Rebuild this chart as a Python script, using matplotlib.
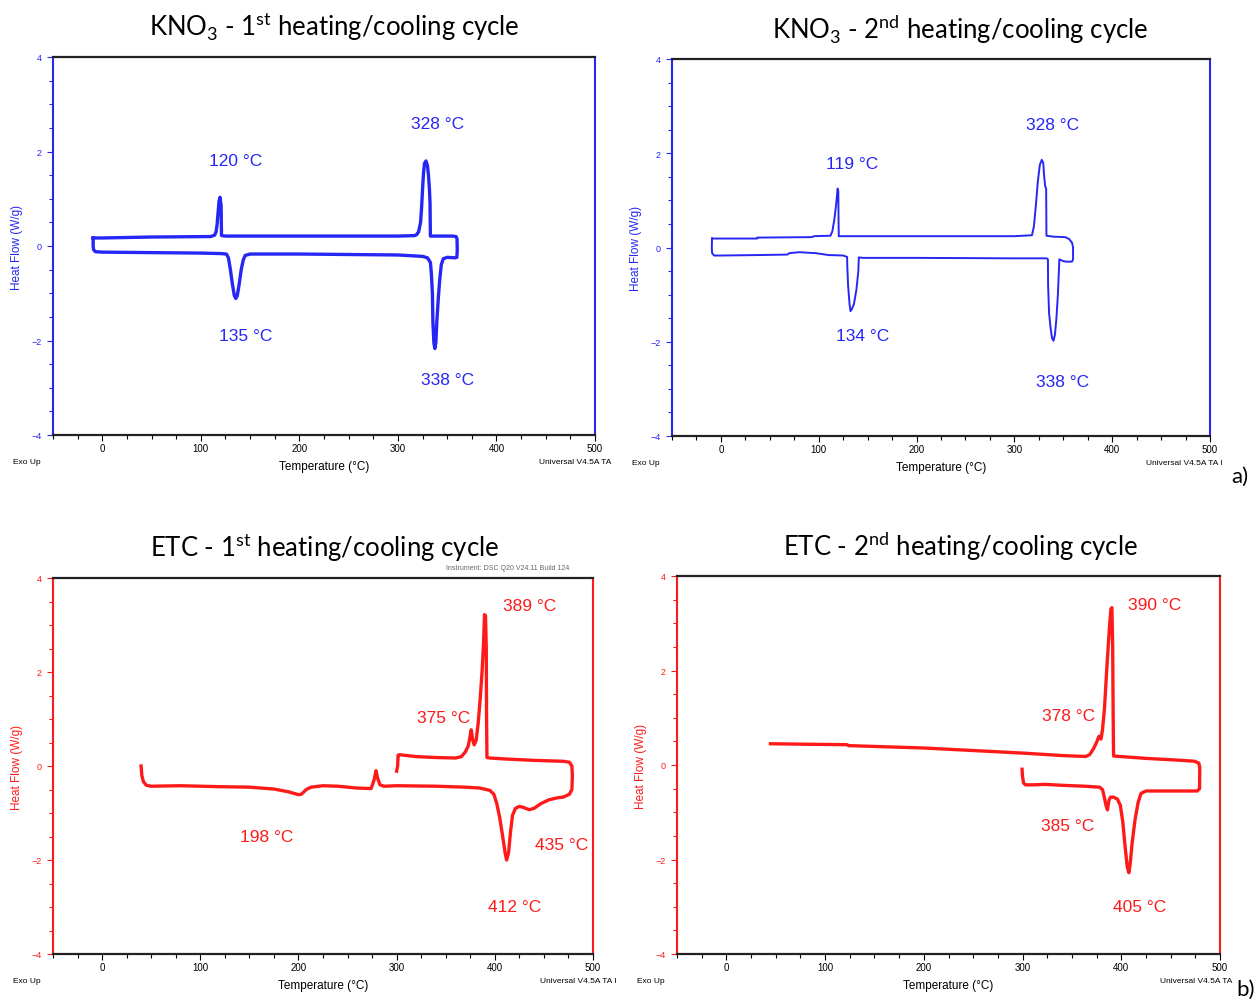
import matplotlib
matplotlib.use("Agg")
import matplotlib.pyplot as plt
from matplotlib.ticker import MultipleLocator

# ---- data (temperature in C, heat flow in W/g) ----
kno3_1_T = [-9.2, -9.3, -8.8, -7, 0, 50, 100, 120, 126, 128, 130, 132, 134, 135.5, 137, 139, 141, 143, 145, 150,
            200, 250, 300, 325, 330, 333, 334, 335, 335.5, 336.5, 337.5, 338.5, 339.5, 341, 342.5, 344, 346, 350,
            358, 359.8, 360.2, 360, 359, 355, 340, 333, 332.8, 332.6, 332, 331, 330, 328.5, 327, 326, 325, 324,
            323, 321, 319, 317, 300, 250, 200, 150, 125, 121, 120.8, 120.6, 119.5, 118.5, 117.5, 116.5, 115.5,
            114, 110, 50, 0, -9.2]
kno3_1_HF = [0.17, 0.0, -0.08, -0.12, -0.13, -0.14, -0.15, -0.16, -0.17, -0.25, -0.5, -0.8, -1.05, -1.11, -1.05,
             -0.8, -0.5, -0.3, -0.2, -0.17, -0.17, -0.18, -0.19, -0.22, -0.25, -0.35, -0.6, -1.0, -1.6, -2.05,
             -2.17, -2.05, -1.6, -1.1, -0.7, -0.4, -0.27, -0.24, -0.25, -0.24, -0.1, 0.15, 0.2, 0.21, 0.21, 0.21,
             0.5, 0.9, 1.2, 1.5, 1.7, 1.8, 1.75, 1.55, 1.2, 0.8, 0.5, 0.3, 0.24, 0.22, 0.21, 0.21, 0.21, 0.21,
             0.21, 0.22, 0.5, 0.85, 1.03, 0.95, 0.7, 0.45, 0.3, 0.23, 0.2, 0.19, 0.17, 0.17]

kno3_2_T = [-9.1, 37, 37.3, 93, 95, 112, 114, 116, 118, 119.3, 120, 120.3, 120.5, 200, 300, 318, 320, 322, 324,
            326, 328, 329.5, 330.5, 331.5, 332.5, 332.8, 340, 352, 356, 359, 360, 360, 359, 353, 350, 348, 346,
            345.5, 344.5, 343, 341.5, 340, 338.5, 337, 335.5, 334.5, 334.3, 333, 300, 200, 145, 141, 140.5,
            138.5, 136, 134, 132.5, 131.5, 130, 129.2, 129, 125, 110, 97, 80, 70, 68, 40, 0, -7, -9, -9.3, -9.1]
kno3_2_HF = [0.19, 0.19, 0.21, 0.22, 0.24, 0.25, 0.35, 0.6, 0.95, 1.25, 1.2, 0.5, 0.24, 0.24, 0.24, 0.26, 0.45,
             0.9, 1.4, 1.75, 1.86, 1.8, 1.5, 1.3, 1.25, 0.25, 0.23, 0.22, 0.18, 0.1, 0.0, -0.25, -0.3, -0.3, -0.29,
             -0.27, -0.25, -0.5, -1.0, -1.5, -1.85, -1.98, -1.92, -1.7, -1.4, -0.8, -0.25, -0.23, -0.23, -0.22,
             -0.22, -0.21, -0.5, -0.9, -1.2, -1.3, -1.35, -1.2, -0.8, -0.4, -0.2, -0.17, -0.16, -0.12, -0.1,
             -0.12, -0.15, -0.16, -0.17, -0.17, -0.12, 0.0, 0.19]

etc_1_T = [39.7, 40.5, 42, 45, 50, 80, 120, 150, 175, 190, 200, 203, 208, 213, 225, 240, 260, 274, 277, 279,
           280.5, 283, 287, 300, 340, 370, 385, 395, 399, 402, 405, 408, 410.5, 412, 414, 416, 418, 421, 425, 429,
           435, 440, 447, 455, 463, 470, 476, 478.5, 479, 478.5, 476, 470, 440, 410, 395, 392, 391.6, 391.3,
           390.5, 389.5, 388.5, 387, 385, 383, 381, 379, 377.5, 376, 374.5, 373, 370, 366, 360, 340, 320, 303,
           301.5, 301, 300]
etc_1_HF = [0.0, -0.2, -0.33, -0.41, -0.43, -0.42, -0.44, -0.45, -0.49, -0.55, -0.61, -0.6, -0.5, -0.45, -0.42,
            -0.43, -0.47, -0.48, -0.3, -0.1, -0.25, -0.4, -0.43, -0.42, -0.43, -0.45, -0.47, -0.52, -0.6, -0.8,
            -1.1, -1.5, -1.85, -2.0, -1.85, -1.4, -1.05, -0.9, -0.86, -0.88, -0.93, -0.9, -0.8, -0.72, -0.68,
            -0.66, -0.6, -0.5, -0.2, 0.0, 0.08, 0.1, 0.12, 0.15, 0.17, 0.18, 1.0, 2.5, 3.2, 3.22, 2.6, 2.0, 1.4,
            0.9, 0.55, 0.45, 0.55, 0.77, 0.6, 0.43, 0.3, 0.2, 0.17, 0.18, 0.2, 0.24, 0.23, 0.0, -0.11]

etc_2_T = [44.7, 80, 122, 124, 200, 302, 340, 364, 368, 372, 375, 377.5, 379.5, 381, 383, 385.5, 388, 389.5,
           390.5, 391.3, 391.8, 392.2, 425, 460, 474, 478.5, 479.5, 479.3, 477, 440, 425, 420, 417, 414, 411, 409,
           407.7, 406, 404, 401.5, 399, 396, 392, 389, 387.5, 386, 384.5, 383, 381, 378, 364, 340, 323, 310, 303,
           301, 300, 299.5]
etc_2_HF = [0.45, 0.44, 0.43, 0.41, 0.36, 0.25, 0.2, 0.18, 0.22, 0.35, 0.48, 0.61, 0.55, 0.75, 1.2, 2.1, 2.9,
            3.3, 3.33, 2.5, 1.0, 0.19, 0.14, 0.1, 0.08, 0.04, -0.05, -0.5, -0.55, -0.55, -0.55, -0.6, -0.8, -1.15,
            -1.65, -2.1, -2.28, -2.15, -1.75, -1.2, -0.85, -0.72, -0.68, -0.68, -0.75, -0.95, -0.85, -0.7, -0.52,
            -0.47, -0.45, -0.43, -0.41, -0.42, -0.42, -0.38, -0.25, -0.09]

# peak labels: (text, T, HF)
kno3_1_labels = [("120 °C", 135, 1.8), ("328 °C", 340, 2.6), ("135 °C", 145.5, -1.9), ("338 °C", 350, -2.83)]
kno3_2_labels = [("119 °C", 134.5, 1.79), ("328 °C", 339.4, 2.62), ("134 °C", 145, -1.87), ("338 °C", 349.7, -2.84)]
etc_1_labels = [("389 °C", 435, 3.42), ("375 °C", 348, 1.03), ("198 °C", 168, -1.51),
                ("435 °C", 468, -1.67), ("412 °C", 420, -3.0)]
etc_2_labels = [("390 °C", 434, 3.4), ("378 °C", 347, 1.04), ("385 °C", 346, -1.29), ("405 °C", 419, -3.0)]

W, H = 1258, 1003
BLUE = '#2626f5'
RED = '#ff1a1a'

plt.rcParams['font.family'] = ['Liberation Sans', 'DejaVu Sans']
plt.rcParams['mathtext.fontset'] = 'custom'
plt.rcParams['mathtext.rm'] = 'Lato'

fig = plt.figure(figsize=(W / 100, H / 100), dpi=100)


def box(l, t, r, b):
    return [l / W, 1 - b / H, (r - l) / W, (b - t) / H]


def ftext(x, y, s, **kw):
    return fig.text(x / W, 1 - y / H, s, **kw)


def panel(rect, T, HF, labels, color, lw, title, title_x, note, note_x):
    ax = fig.add_axes(box(*rect))
    ax.plot(T, HF, color=color, lw=lw, solid_joinstyle='round')
    for s, x, y in labels:
        ax.text(x, y, s, color=color, fontsize=12.5, ha='center', va='center')
    ax.set_xlim(-50, 500)
    ax.set_ylim(-4, 4)
    ax.xaxis.set_major_locator(MultipleLocator(100))
    ax.xaxis.set_minor_locator(MultipleLocator(25))
    ax.yaxis.set_major_locator(MultipleLocator(2))
    ax.yaxis.set_minor_locator(MultipleLocator(0.5))
    ax.tick_params(which='both', direction='out', width=0.8, labelsize=7, pad=2)
    ax.tick_params(which='major', length=4)
    ax.tick_params(which='minor', length=3)
    ax.tick_params(axis='y', which='both', colors=color, labelsize=6.5, pad=4)
    for side in ['left', 'right']:
        ax.spines[side].set_color(color)
        ax.spines[side].set_linewidth(1.5)
    for side in ['top', 'bottom']:
        ax.spines[side].set_color('#222222')
        ax.spines[side].set_linewidth(1.6)
    ax.set_ylabel('Heat Flow (W/g)', color=color, fontsize=8.5, labelpad=6)
    ax.set_xlabel('Temperature (°C)', fontsize=8.5, labelpad=5)
    l, t, r, b = rect
    ftext(l - 40, b + 27, 'Exo Up', fontsize=6, ha='left', va='center')
    ftext(note_x, b + 27, note, fontsize=6, ha='right', va='center')
    ftext(title_x, t - 31, title, fontsize=18.5, ha='center', va='center', family='Lato')
    return ax


panel((53, 58, 595, 436), kno3_1_T, kno3_1_HF, kno3_1_labels, BLUE, 2.4,
      'KNO$_\\mathregular{3}$ - 1$^\\mathregular{st}$ heating/cooling cycle', 334, 'Universal V4.5A TA', 611)
panel((672, 60, 1210, 437), kno3_2_T, kno3_2_HF, kno3_2_labels, BLUE, 1.4,
      'KNO$_\\mathregular{3}$ - 2$^\\mathregular{nd}$ heating/cooling cycle', 960, 'Universal V4.5A TA I', 1222)
panel((53, 579, 593, 955), etc_1_T, etc_1_HF, etc_1_labels, RED, 2.4,
      'ETC - 1$^\\mathregular{st}$ heating/cooling cycle', 325, 'Universal V4.5A TA I', 617)
panel((677, 577, 1220, 955), etc_2_T, etc_2_HF, etc_2_labels, RED, 2.4,
      'ETC - 2$^\\mathregular{nd}$ heating/cooling cycle', 960, 'Universal V4.5A TA', 1232)

# instrument note just under the ETC title
ftext(508, 569, 'Instrument: DSC Q20 V24.11 Build 124', fontsize=5, ha='center', va='center', color='#666666')

ftext(1240, 477, 'a)', fontsize=16, ha='center', va='center', family='Lato')
ftext(1246, 990, 'b)', fontsize=16, ha='center', va='center', family='Lato')

fig.savefig('out.png', dpi=100)
